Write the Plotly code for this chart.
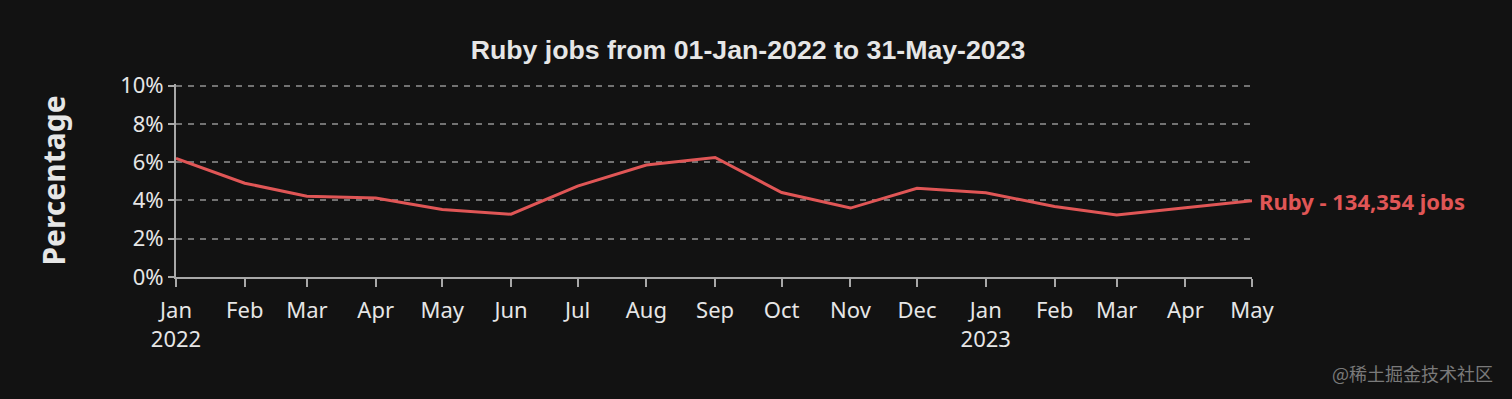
import plotly.graph_objects as go

months = ["2022-01-01", "2022-02-01", "2022-03-01", "2022-04-01", "2022-05-01",
          "2022-06-01", "2022-07-01", "2022-08-01", "2022-09-01", "2022-10-01",
          "2022-11-01", "2022-12-01", "2023-01-01", "2023-02-01", "2023-03-01",
          "2023-04-01", "2023-05-01"]
ruby_pct = [6.2, 4.9, 4.22, 4.12, 3.53, 3.28, 4.75, 5.85, 6.24, 4.41,
            3.6, 4.63, 4.4, 3.68, 3.24, 3.63, 3.98]
tick_labels = ["Jan<br>2022", "Feb", "Mar", "Apr", "May", "Jun", "Jul", "Aug", "Sep",
               "Oct", "Nov", "Dec", "Jan<br>2023", "Feb", "Mar", "Apr", "May"]
y_ticks = [0, 2, 4, 6, 8, 10]
series_label = "Ruby - 134,354 jobs"
title_text = "Ruby jobs from 01-Jan-2022 to 31-May-2023"
watermark = "@稀土掘金技术社区"

BG = "#121212"
RED = "#e05656"
TXT = "#e6e6e6"
AX = "#a8a8a8"
TICKFONT = "Noto Sans"

fig = go.Figure()
fig.add_trace(go.Scatter(x=months, y=ruby_pct, mode="lines",
                         line=dict(color=RED, width=3), showlegend=False,
                         hoverinfo="skip"))

fig.add_annotation(x=months[-1], y=ruby_pct[-1], text="<b>%s</b>" % series_label,
                   showarrow=False, xanchor="left", yanchor="middle", xshift=5,
                   font=dict(family=TICKFONT, size=22, color=RED))
fig.add_annotation(xref="paper", yref="paper", x=1.2258, y=-0.495,
                   xanchor="right", yanchor="middle",
                   text=watermark, showarrow=False,
                   font=dict(family="Noto Sans CJK SC", size=18, color="#7a7a7a"))

fig.update_layout(
    width=1512, height=399,
    paper_bgcolor=BG, plot_bgcolor=BG,
    margin=dict(l=176, r=260, t=84, b=122),
    title=dict(text="<b>%s</b>" % title_text, x=0.4947, xanchor="center",
               y=0.875, yanchor="middle",
               font=dict(family="Liberation Sans", size=26.7, color=TXT)),
    xaxis=dict(type="date", range=[months[0], months[-1]],
               tickvals=months, ticktext=tick_labels,
               showgrid=False, zeroline=False,
               showline=True, linecolor=AX, linewidth=2,
               ticks="outside", ticklen=8, tickcolor=AX, tickwidth=2,
               ticklabelstandoff=5,
               tickfont=dict(family=TICKFONT, size=22, color=TXT)),
    yaxis=dict(range=[0, 10.08], tickvals=y_ticks,
               ticktext=["%d%%" % v for v in y_ticks],
               showgrid=True, gridcolor="#727272", griddash="6px,6px", gridwidth=1.5,
               zeroline=False, showline=True, linecolor=AX, linewidth=2,
               ticks="outside", ticklen=6, tickcolor=AX, tickwidth=2,
               tickfont=dict(family=TICKFONT, size=22, color=TXT),
               title=dict(text="<b>Percentage</b>", standoff=46,
                          font=dict(family=TICKFONT, size=30, color=TXT))),
)

fig.write_html("out.html", config={"displayModeBar": False},
               post_script="document.body.style.margin='0';"
                           "document.body.style.background='%s';" % BG)
